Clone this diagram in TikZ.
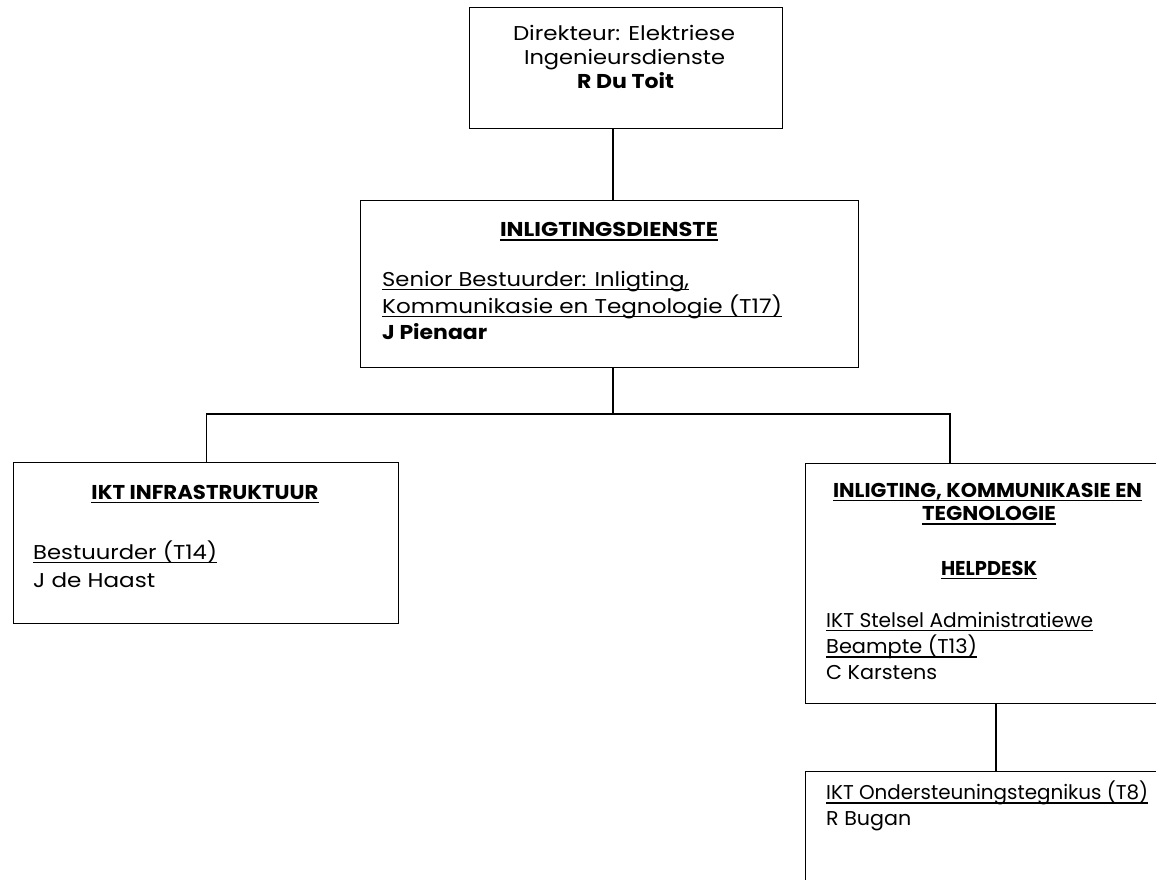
\documentclass[tikz,border=0pt]{standalone}
\usepackage{graphicx}
\usepackage{fontspec}
\setmainfont{Poppins}
\newsavebox\ulbox
\newcommand\ulx[1]{\sbox\ulbox{#1}\rlap{\rule[-4pt]{\wd\ulbox}{1.2pt}}\usebox\ulbox}
\newcommand\fw[2]{\resizebox{#1pt}{\height}{#2}}
\tikzset{
  txt/.style={inner sep=0pt, font=\fontsize{20}{24}\selectfont},
  orgbox/.style={draw, line width=1.2pt, rectangle, inner sep=0pt, anchor=north west},
  conn/.style={line width=1.2pt}
}
\begin{document}
\begin{tikzpicture}[x=1pt,y=-1pt]
\useasboundingbox (0,0) rectangle (1156,880);
\clip (0,0) rectangle (1156,880);
% boxes
\node[orgbox, minimum width=313pt, minimum height=121pt] (top) at (469,7) {};
\node[orgbox, minimum width=498pt, minimum height=167pt] (mid) at (360,200) {};
\node[orgbox, minimum width=385pt, minimum height=161pt] (left) at (13,462) {};
\node[orgbox, minimum width=367pt, minimum height=240pt] (right) at (805,463) {};
\node[orgbox, minimum width=367pt, minimum height=150pt] (bot) at (805,771) {};
% connector guides
\coordinate (sp) at (613,0);
\coordinate (bus) at (613,414);
\coordinate (rc) at (950,0);
\coordinate (rc2) at (996,0);
\draw[conn] (top.south -| sp) -- (mid.north -| sp);
\draw[conn] (mid.south -| sp) -- (bus);
\draw[conn] (left.north) |- (bus) -| (right.north -| rc);
\draw[conn] (right.south -| rc2) -- (bot.north -| rc2);
% top text
\node[txt, anchor=base] (d1) at (624,41) {\fw{222}{Direkteur: Elektriese}};
\node[txt, anchor=base] (d2) at (624.5,65) {\fw{201}{Ingenieursdienste}};
\node[txt, anchor=base] (d3) at (625.5,89) {\fw{97}{\bfseries R Du Toit}};
% middle text
\node[txt, anchor=base] (m1) at (609,236.5) {\fw{218}{\bfseries\ulx{INLIGTINGSDIENSTE}}};
\node[txt, anchor=base west] (m2) at (382,286) {\fw{307}{\ulx{Senior Bestuurder: Inligting,}}};
\node[txt, anchor=base west] (m3) at (382,313) {\fw{400}{\ulx{Kommunikasie en Tegnologie (T17)}}};
\node[txt, anchor=base west] (m4) at (382,339.5) {\fw{105}{\bfseries J Pienaar}};
% left text
\node[txt, anchor=base] (l1) at (205,499) {\fw{227}{\bfseries\ulx{IKT INFRASTRUKTUUR}}};
\node[txt, anchor=base west] (l2) at (33,559) {\fw{184}{\ulx{Bestuurder (T14)}}};
\node[txt, anchor=base west] (l3) at (33,587) {\fw{122}{J de Haast}};
% right text
\node[txt, anchor=base] (r1) at (987.5,497) {\fw{309}{\bfseries\ulx{INLIGTING, KOMMUNIKASIE EN}}};
\node[txt, anchor=base] (r2) at (989,520.5) {\fw{134}{\bfseries\ulx{TEGNOLOGIE}}};
\node[txt, anchor=base] (r3) at (989,575) {\fw{96}{\bfseries\ulx{HELPDESK}}};
\node[txt, anchor=base west] (r4) at (826,627) {\fw{267}{\ulx{IKT Stelsel Administratiewe}}};
\node[txt, anchor=base west] (r5) at (826,653.5) {\fw{151}{\ulx{Beampte (T13)}}};
\node[txt, anchor=base west] (r6) at (826,679.5) {\fw{111}{C Karstens}};
% bottom text
\node[txt, anchor=base west] (b1) at (826,799.5) {\fw{322}{\ulx{IKT Ondersteuningstegnikus (T8)}}};
\node[txt, anchor=base west] (b2) at (826,825.7) {\fw{85}{R Bugan}};
\end{tikzpicture}
\end{document}
